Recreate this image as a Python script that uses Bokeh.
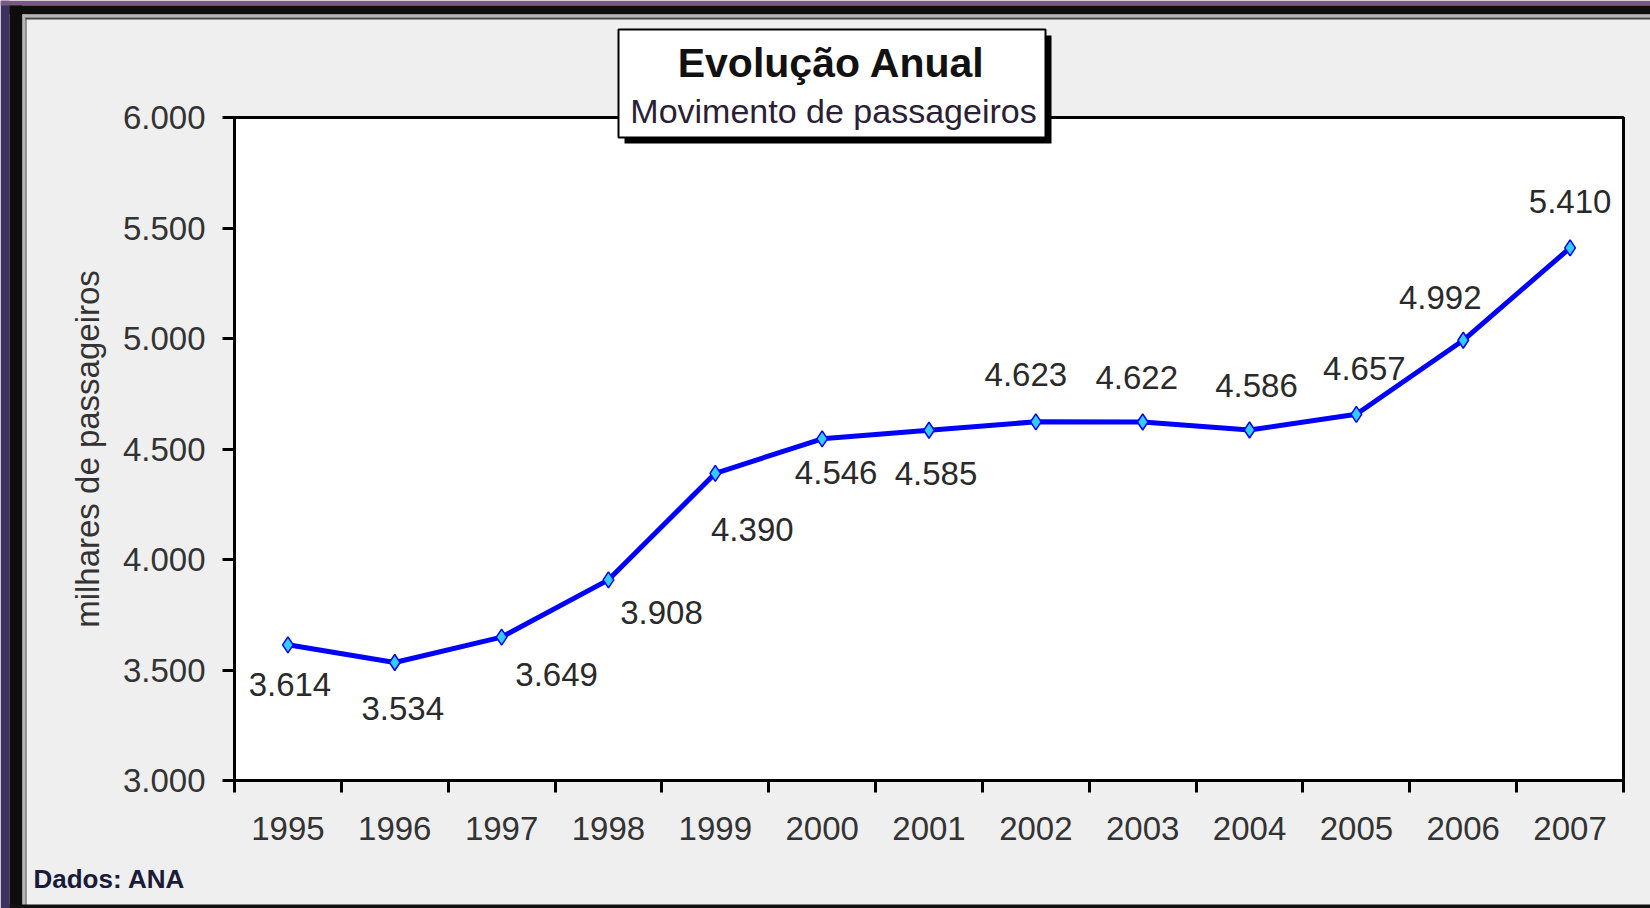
from bokeh.plotting import figure
from bokeh.models import ColumnDataSource, FixedTicker, BoxAnnotation, Label, Range1d
from bokeh.embed import file_html
from bokeh.resources import INLINE
from bokeh.core.properties import value

# ---------------- data ----------------
years = [1995, 1996, 1997, 1998, 1999, 2000, 2001, 2002, 2003, 2004, 2005, 2006, 2007]
passengers = [3614, 3534, 3649, 3908, 4390, 4546, 4585, 4623, 4622, 4586, 4657, 4992, 5410]
y_ticks = [3000, 3500, 4000, 4500, 5000, 5500, 6000]
title_text = "Evolução Anual"
subtitle_text = "Movimento de passageiros"
y_axis_title = "milhares de passageiros"
source_note = "Dados: ANA"

# label placement (pixel offsets of each value label from its point)
label_dx = [2, 8, 55, 53, 37, 14, 7, -10, -6, 7, 8, -23, 0]
label_dy = [40, 46, 37, 33, 56, 34, 43, -47, -45, -44, -46, -43, -46]

FONT = "Liberation Sans"


def fmt(v):
    return f"{v:,}".replace(",", ".")


# ---------------- layout (canvas pixels) ----------------
W, H = 1650, 908
PL, PR, PT, PB = 234, 1623, 117, 780   # plot-area edges on the canvas

x0, x1 = years[0] - 0.5, years[-1] + 0.5
y0, y1 = y_ticks[0], y_ticks[-1]
kx = (PR - PL) / (x1 - x0)
ky = (PB - PT) / (y1 - y0)

p = figure(
    width=W, height=H,
    output_backend="svg", toolbar_location=None,
    x_range=Range1d(x0 - PL / kx, x1 + (W - PR) / kx),
    y_range=Range1d(y0 - (H - PB) / ky, y1 + PT / ky),
    min_border=0,
)
p.min_border_left = p.min_border_right = p.min_border_top = p.min_border_bottom = 0
p.background_fill_color = "#efefef"
p.border_fill_color = "#efefef"
p.outline_line_color = None
p.xgrid.visible = False
p.ygrid.visible = False


def box(l, r, t, b, **kw):
    """Box in canvas pixels (top-left origin)."""
    kw.setdefault("fill_alpha", 1)
    kw.setdefault("line_alpha", 1)
    return BoxAnnotation(left=l, right=r, top=H - t, bottom=H - b,
                         left_units="screen", right_units="screen",
                         top_units="screen", bottom_units="screen", **kw)


# white plot area
p.add_layout(BoxAnnotation(left=x0, right=x1, bottom=y0, top=y1,
                           fill_color="white", fill_alpha=1,
                           line_color="black", line_alpha=1, line_width=3,
                           level="underlay"))

# y axis
yax = p.yaxis[0]
yax.fixed_location = x0
yax.bounds = (y0, y1)
yax.ticker = FixedTicker(ticks=y_ticks, minor_ticks=[])
yax.major_label_overrides = {t: fmt(t) for t in y_ticks}
yax.major_tick_out = 12
yax.major_tick_in = 0
yax.major_tick_line_width = 3
yax.axis_line_width = 3
yax.major_label_standoff = 17
yax.major_label_text_font = FONT
yax.major_label_text_font_size = "33px"
yax.major_label_text_color = "#333333"
yax.axis_label = y_axis_title
yax.axis_label_text_font = FONT
yax.axis_label_text_font_size = "33px"
yax.axis_label_text_font_style = "normal"
yax.axis_label_text_color = "#333333"
yax.axis_label_standoff = 14

# x axis: labels at category centres, tick marks between categories
xax = p.xaxis[0]
xax.fixed_location = y0
xax.bounds = (x0, x1)
boundaries = [y - 0.5 for y in years] + [years[-1] + 0.5]
xax.ticker = FixedTicker(ticks=years, minor_ticks=boundaries)
xax.major_label_overrides = {y: str(y) for y in years}
xax.major_tick_out = 0
xax.major_tick_in = 0
xax.minor_tick_out = 12
xax.minor_tick_in = 0
xax.minor_tick_line_width = 3
xax.minor_tick_line_color = "black"
xax.axis_line_width = 3
xax.major_label_standoff = 24
xax.major_label_text_font = FONT
xax.major_label_text_font_size = "33px"
xax.major_label_text_color = "#333333"

src = ColumnDataSource(dict(
    x=years, y=passengers,
    lbl=[fmt(v) for v in passengers],
    dx=label_dx, dy=label_dy,
))

p.line("x", "y", source=src, line_color="#0000ff", line_width=5)
p.scatter("x", "y", source=src, marker="diamond", size=16,
          fill_color="#33ccff", line_color="#0000ff", line_width=1.5)
p.text("x", "y", text="lbl", source=src, x_offset="dx", y_offset="dy",
       text_align="center", text_baseline="middle",
       text_font=value(FONT), text_font_size="33px", text_color="#2a2a2a")

# frame of the original picture
p.add_layout(box(0, 9, 0, H, fill_color="#3d3062", line_color=None))
p.add_layout(box(0, W, 0, 5, fill_color="#7a5a84", line_color=None))
p.add_layout(box(9, 22, 5, H, fill_color="#0d0d0d", line_color=None))
p.add_layout(box(9, W, 5, 14, fill_color="#0d0d0d", line_color=None))
p.add_layout(box(22, 25, 14, H, fill_color="#b5b5b5", line_color=None))
p.add_layout(box(22, W, 14, 17, fill_color="#b5b5b5", line_color=None))
p.add_layout(box(25, 26, 17, H, fill_color="#444444", line_color=None))
p.add_layout(box(25, W, 17, 19, fill_color="#444444", line_color=None))
p.add_layout(box(9, W, 904, H, fill_color="#111111", line_color=None))

# title box with shadow
p.add_layout(box(624, 1051, 35, 143, fill_color="black", line_color=None))
p.add_layout(box(618, 1045, 29, 137, fill_color="white",
                 line_color="black", line_width=2))

p.add_layout(Label(x=831, y=H - 62, x_units="screen", y_units="screen",
                   text=title_text, text_align="center", text_baseline="alphabetic",
                   text_font=FONT, text_font_size="41px", text_font_style="bold",
                   text_color="#111111"))
p.add_layout(Label(x=833, y=H - 110, x_units="screen", y_units="screen",
                   text=subtitle_text, text_align="center", text_baseline="alphabetic",
                   text_font=FONT, text_font_size="34px", text_color="#2a2035"))

p.add_layout(Label(x=33, y=H - 878, x_units="screen", y_units="screen",
                   text=source_note, text_align="left", text_baseline="alphabetic",
                   text_font=FONT, text_font_size="26px", text_font_style="bold",
                   text_color="#1a1a3a"))

open("out.html", "w").write(file_html(p, INLINE))
